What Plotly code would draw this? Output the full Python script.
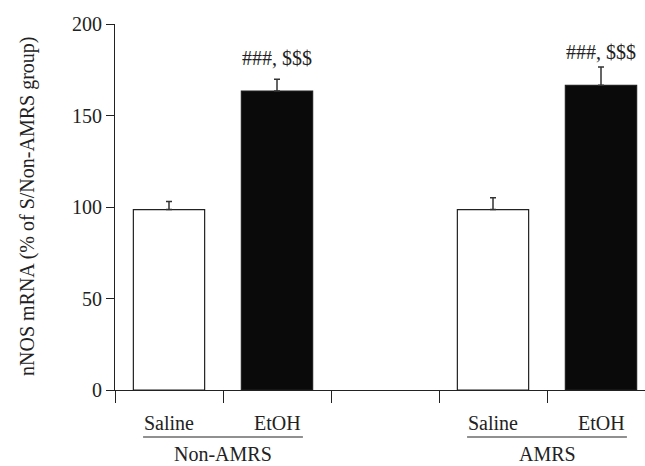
import plotly.graph_objects as go

# Data
treatments = ["Saline", "EtOH", "Saline", "EtOH"]
groups = ["Non-AMRS", "AMRS"]
slot_positions = [0, 1, 3, 4]
values = [98.6, 163.4, 98.6, 166.5]
errors = [4.4, 6.4, 6.4, 10.0]
fills = ["white", "#0a0a0a", "white", "#0a0a0a"]
sig_labels = ["", "###, $$$", "", "###, $$$"]
sig_label_y = [None, 181.4, None, 184.7]
y_ticks = [0, 50, 100, 150, 200]
y_title = "nNOS mRNA (% of S/Non-AMRS group)"

W, H = 645, 466
L, R, T, B = 115, 0, 24, 76
pw, ph = W - L - R, H - T - B
FONT = "Liberation Serif"
FS = 20

fig = go.Figure()
fig.add_trace(go.Bar(
    x=slot_positions, y=values, width=0.66,
    marker=dict(color=fills, line=dict(color="#222222", width=1.2)),
    error_y=dict(type="data", symmetric=False, array=errors,
                 arrayminus=[0] * len(errors), color="#333333",
                 thickness=1.5, width=3),
    showlegend=False,
))

x_max = -0.5 + pw / 108.0

annotations = []
for xp, s, sy in zip(slot_positions, sig_labels, sig_label_y):
    if s:
        annotations.append(dict(x=xp, y=sy, xref="x", yref="y", text=s,
                                showarrow=False, yanchor="middle",
                                font=dict(family=FONT, size=FS, color="#222")))
for xp, t in zip(slot_positions, treatments):
    annotations.append(dict(x=xp, y=(390 - 423) / ph, xref="x", yref="paper", text=t,
                            showarrow=False, yanchor="middle",
                            font=dict(family=FONT, size=FS, color="#222")))
group_centers = [0.5, 3.5]
shapes = []
for gc, g in zip(group_centers, groups):
    annotations.append(dict(x=gc, y=(390 - 466) / ph, xref="x", yref="paper", text=g,
                            showarrow=False, yanchor="bottom", borderpad=0,
                            font=dict(family=FONT, size=FS, color="#222")))
    shapes.append(dict(type="line", xref="x", yref="paper",
                       x0=gc - 0.74, x1=gc + 0.74,
                       y0=(390 - 437) / ph, y1=(390 - 437) / ph,
                       line=dict(color="#222", width=1.2)))

annotations.append(dict(x=(27 - L) / pw, y=0.5, xref="paper", yref="paper",
                        text=y_title, textangle=-90, showarrow=False,
                        xanchor="center", yanchor="middle",
                        font=dict(family=FONT, size=FS, color="#222")))

fig.update_layout(
    width=W, height=H,
    margin=dict(l=L, r=R, t=T, b=B),
    paper_bgcolor="white", plot_bgcolor="white",
    font=dict(family=FONT, size=FS, color="#222"),
    annotations=annotations, shapes=shapes,
    xaxis=dict(range=[-0.5, x_max], tickvals=[-0.5, 0.5, 1.5, 2.5, 3.5],
               ticktext=[""] * 5, ticks="outside", ticklen=12, tickwidth=1.2,
               tickcolor="#222", showline=True, linecolor="#222", linewidth=1.2,
               showgrid=False, zeroline=False),
    yaxis=dict(range=[0, 200], tickvals=y_ticks, ticks="outside", ticklen=8,
               tickwidth=1.2, tickcolor="#222", showline=True, linecolor="#222",
               linewidth=1.2, showgrid=False, zeroline=False,
               tickfont=dict(family=FONT, size=FS, color="#222")),
)

fig.write_html("out.html", config={"displayModeBar": False},
               post_script="document.body.style.margin='0';document.body.style.padding='0';")
